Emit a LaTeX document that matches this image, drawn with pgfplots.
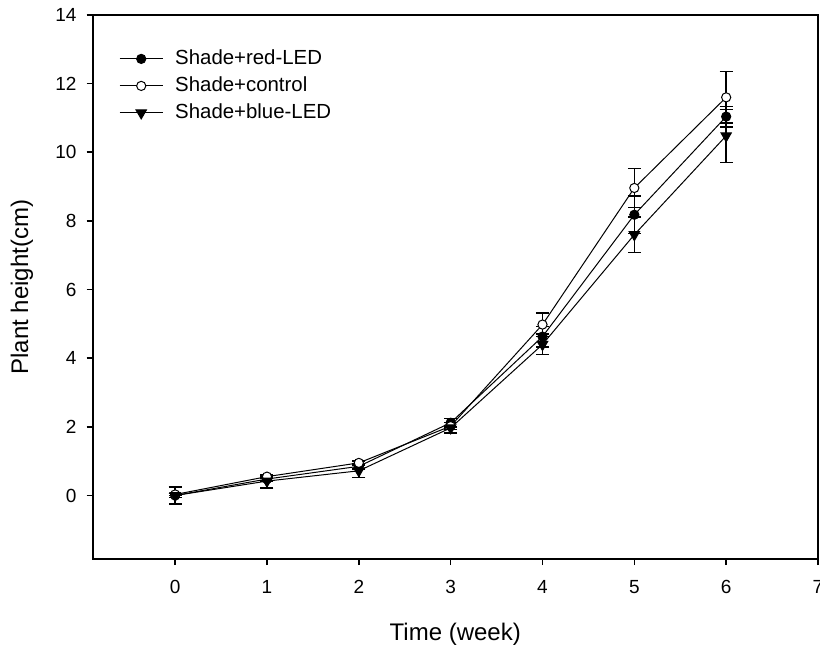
\documentclass[border=0pt]{standalone}
\usepackage{pgfplots}
\pgfplotsset{compat=1.18}
\usepackage{fontspec}
\setmainfont{Liberation Sans}
\begin{document}
\begin{tikzpicture}
\begin{axis}[name=ax, width=362.75pt, height=272pt, scale only axis,
  xmin=-0.9, xmax=7, ymin=-1.85, ymax=14,
  xtick={0,1,...,7}, ytick={0,2,...,14},
  tick align=outside, xtick pos=left, ytick pos=left, major tick length=3pt,
  axis line style={line width=1pt}, tick style={line width=0.8pt, black},
  ticklabel style={font=\fontsize{9.5}{10}\selectfont},
  xticklabel style={yshift=-4pt},
  yticklabel style={xshift=-1.5pt},
  /pgf/number format/assume math mode=true,
  xlabel={Time (week)}, ylabel={Plant height(cm)},
  label style={font=\fontsize{12}{14}\selectfont},
  xlabel style={at={(axis description cs:0.5,-0.1379)}, anchor=center},
  ylabel style={at={(axis description cs:-0.0972,0.5)}, anchor=center},
  legend style={at={(rel axis cs:0.028,0.943)}, anchor=north west, draw=none, fill=none,
    font=\fontsize{10.2}{11}\selectfont, row sep=5pt, cells={anchor=west},
    nodes={inner sep=0pt, text height=7pt, text depth=1.5pt},
    /tikz/every odd column/.append style={column sep=6pt}},
  legend image code/.code={\draw[mark repeat=2,mark phase=2] plot coordinates {(0pt,0pt)(10.75pt,0pt)(21.5pt,0pt)};},
  every axis plot/.append style={black, line width=0.5pt},
]
\addplot[black, mark=*, mark size=2.3pt, mark options={fill=black, solid},
  error bars/.cd, y dir=both, y explicit, error bar style={line width=0.7pt},
  error mark options={rotate=90, mark size=3.25pt, line width=0.7pt}]
  table[x=x, y=y, y error=e] {
x y e
0 0.00 0.05
1 0.48 0.06
2 0.85 0.08
3 2.12 0.12
4 4.63 0.30
5 8.18 0.55
6 11.04 0.30
};
\addlegendentry{Shade+red-LED}
\addplot[black, mark=*, mark size=2.3pt, mark options={fill=white, solid},
  error bars/.cd, y dir=both, y explicit, error bar style={line width=0.7pt},
  error mark options={rotate=90, mark size=3.25pt, line width=0.7pt}]
  table[x=x, y=y, y error=e] {
x y e
0 0.03 0.03
1 0.55 0.05
2 0.95 0.06
3 2.02 0.10
4 4.98 0.34
5 8.96 0.57
6 11.60 0.75
};
\addlegendentry{Shade+control}
\addplot[black, mark=triangle*, mark size=3pt, mark options={rotate=180, fill=black, solid},
  error bars/.cd, y dir=both, y explicit, error bar style={line width=0.7pt},
  error mark options={rotate=90, mark size=3.25pt, line width=0.7pt}]
  table[x=x, y=y, y error=e] {
x y e
0 0.00 0.25
1 0.42 0.20
2 0.72 0.20
3 1.97 0.15
4 4.40 0.30
5 7.60 0.52
6 10.48 0.77
};
\addlegendentry{Shade+blue-LED}
\end{axis}
\pgfresetboundingbox
\path[use as bounding box] ([shift={(-46.25pt,-45.5pt)}]ax.south west) rectangle ([shift={(1pt,7.5pt)}]ax.north east);
\end{tikzpicture}
\end{document}
